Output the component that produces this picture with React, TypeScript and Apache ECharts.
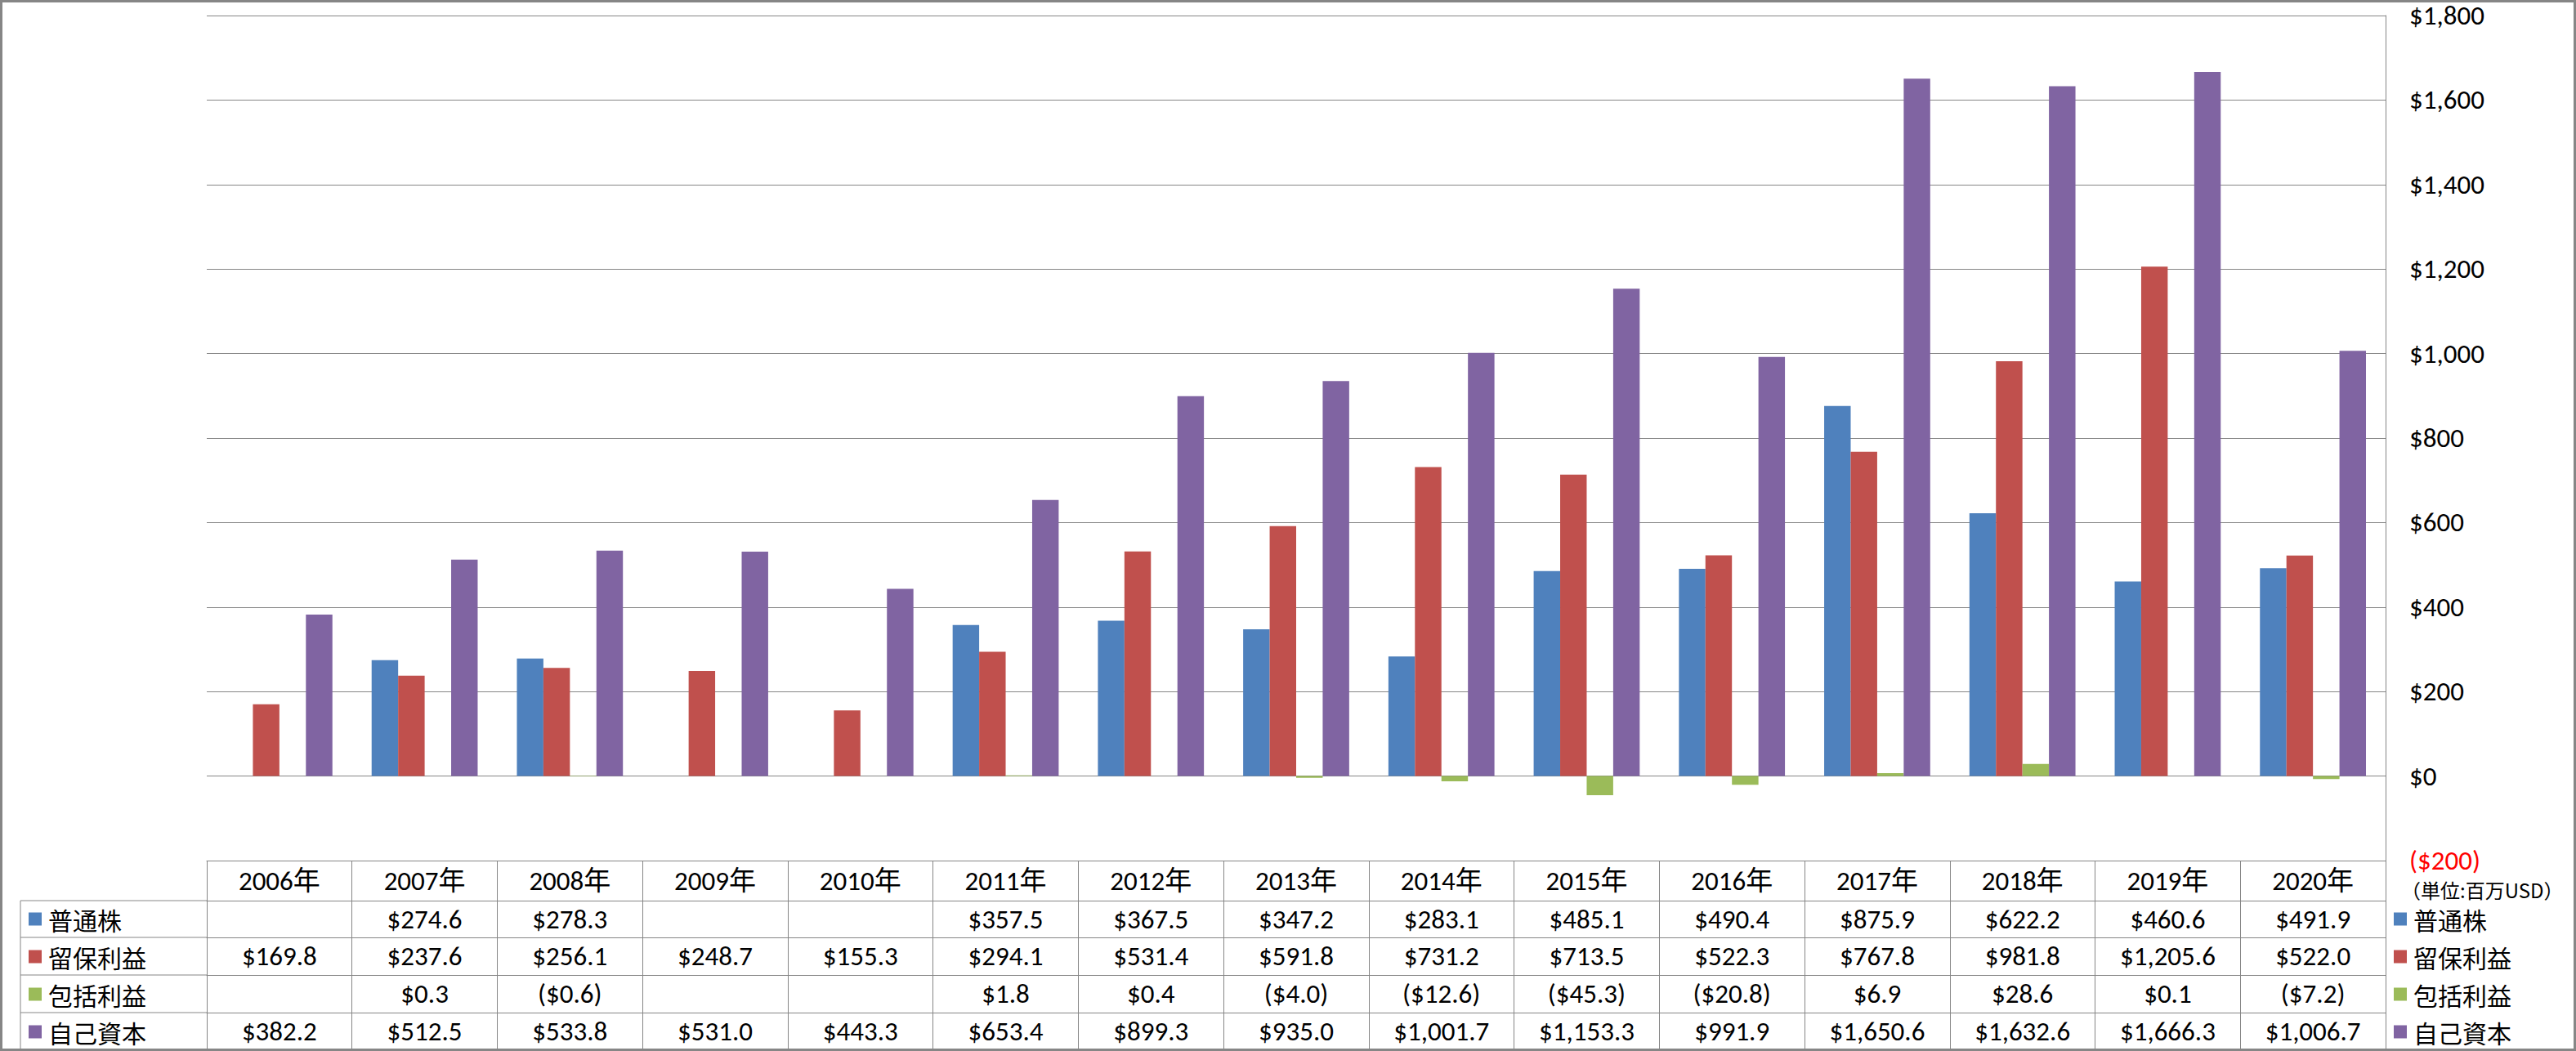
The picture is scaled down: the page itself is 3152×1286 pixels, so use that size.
import React, { useEffect, useRef } from "react";
import * as echarts from "echarts";

const years = ["2006年", "2007年", "2008年", "2009年", "2010年", "2011年", "2012年", "2013年", "2014年", "2015年", "2016年", "2017年", "2018年", "2019年", "2020年"];
const seriesNames = ["普通株", "留保利益", "包括利益", "自己資本"];
const commonStock = [null, 274.6, 278.3, null, null, 357.5, 367.5, 347.2, 283.1, 485.1, 490.4, 875.9, 622.2, 460.6, 491.9];
const retainedEarnings = [169.8, 237.6, 256.1, 248.7, 155.3, 294.1, 531.4, 591.8, 731.2, 713.5, 522.3, 767.8, 981.8, 1205.6, 522.0];
const comprehensiveIncome = [null, 0.3, -0.6, null, null, 1.8, 0.4, -4.0, -12.6, -45.3, -20.8, 6.9, 28.6, 0.1, -7.2];
const equity = [382.2, 512.5, 533.8, 531.0, 443.3, 653.4, 899.3, 935.0, 1001.7, 1153.3, 991.9, 1650.6, 1632.6, 1666.3, 1006.7];
const seriesData = [commonStock, retainedEarnings, comprehensiveIncome, equity];
const seriesColors = ["#4F81BD", "#C0504D", "#9BBB59", "#8064A2"];
const yMin = -200;
const yMax = 1800;
const yInterval = 200;
const unitLabel = "（単位:百万USD）";

const GRAY = "#868686";
const NUM_FONT = "Carlito, Lato, 'Noto Sans CJK JP', sans-serif";
const CJK_FONT = "'Noto Sans CJK JP', sans-serif";
const NUM_SIZE = 33;

const fmt = (v: number | null) => {
  if (v === null || v === undefined) return "";
  const s = "$" + Math.abs(v).toLocaleString("en-US", { minimumFractionDigits: 1, maximumFractionDigits: 1 });
  return v < 0 ? `(${s})` : s;
};

export default function App() {
  const ref = useRef<HTMLDivElement>(null);
  useEffect(() => {
    if (!ref.current) return;
    const chart = echarts.init(ref.current, null, { renderer: "svg" });

    const gridLeft = 253;
    const gridRight = 233;
    const gridTop = 19;
    const gridBottom = 233;
    const tableTop = 1286 - gridBottom; // 1053
    const headerH = 49;
    const rowOffsets = [49, 94, 140, 186];
    const rowHeights = [45, 46, 46, 46];

    const baseAxis = (extra: any) => ({
      type: "category",
      data: years,
      gridIndex: 0,
      position: "bottom",
      boundaryGap: true,
      axisLine: { show: true, onZero: false, lineStyle: { color: GRAY, width: 1 } },
      splitLine: { show: false },
      ...extra,
    });

    const xAxes: any[] = [
      baseAxis({
        offset: 0,
        axisTick: { show: true, interval: 0, length: headerH, lineStyle: { color: GRAY, width: 1 } },
        axisLabel: {
          interval: 0,
          margin: headerH / 2,
          verticalAlign: "middle",
          color: "#000",
          fontSize: NUM_SIZE,
          fontFamily: NUM_FONT,
        },
      }),
      ...rowOffsets.map((off, r) =>
        baseAxis({
          offset: off,
          axisTick: { show: true, interval: 0, length: rowHeights[r], lineStyle: { color: GRAY, width: 1 } },
          axisLabel: {
            interval: 0,
            margin: rowHeights[r] / 2,
            verticalAlign: "middle",
            color: "#000",
            fontSize: NUM_SIZE,
            fontFamily: NUM_FONT,
            formatter: (_v: string, idx: number) => fmt(seriesData[r][idx] as any),
          },
        })
      ),
    ];

    const legendBase = {
      orient: "vertical",
      icon: "rect",
      itemWidth: 16,
      itemHeight: 16,
      itemGap: 15,
      padding: 0,
      selectedMode: false,
      data: seriesNames,
      textStyle: { fontSize: 30, lineHeight: 31, color: "#000", fontFamily: CJK_FONT, padding: [0, 0, 0, 3] },
    };

    const tableRowLines = rowOffsets.map((off) => ({
      type: "line",
      shape: { x1: 25, y1: tableTop + off, x2: gridLeft, y2: tableTop + off },
      style: { stroke: GRAY, lineWidth: 1 },
    }));

    chart.setOption({
      animation: false,
      backgroundColor: "#fff",
      grid: { left: gridLeft, right: gridRight, top: gridTop, bottom: gridBottom, containLabel: false },
      legend: [
        { ...legendBase, left: 35, top: 1109 },
        { ...legendBase, left: 2929, top: 1109 },
      ],
      xAxis: xAxes,
      yAxis: {
        type: "value",
        position: "right",
        min: yMin,
        max: yMax,
        interval: yInterval,
        axisLine: { show: true, lineStyle: { color: GRAY, width: 1 } },
        axisTick: { show: false },
        splitLine: { show: true, lineStyle: { color: GRAY, width: 1 } },
        axisLabel: {
          margin: 29,
          fontSize: NUM_SIZE,
          fontFamily: NUM_FONT,
          color: "#000",
          formatter: (v: number) =>
            v < 0 ? `{neg|($${Math.abs(v).toLocaleString("en-US")})}` : `$${v.toLocaleString("en-US")}`,
          rich: { neg: { color: "#FF0000", fontSize: NUM_SIZE, fontFamily: NUM_FONT } },
        },
      },
      series: seriesNames.map((name, i) => ({
        name,
        type: "bar",
        xAxisIndex: 0,
        yAxisIndex: 0,
        data: seriesData[i],
        barGap: "0%",
        barCategoryGap: "27%",
        itemStyle: { color: seriesColors[i] },
      })),
      graphic: [
        ...tableRowLines,
        {
          type: "line",
          shape: { x1: 25, y1: tableTop + rowOffsets[0], x2: 25, y2: 1286 },
          style: { stroke: GRAY, lineWidth: 1 },
        },
        {
          type: "text",
          x: 2938,
          y: 1088,
          style: {
            text: unitLabel,
            fontSize: 24,
            fontFamily: CJK_FONT,
            fill: "#000",
            verticalAlign: "middle",
            align: "left",
          },
        },
        {
          type: "rect",
          shape: { x: 1.5, y: 1.5, width: 3149, height: 1283 },
          style: { fill: "none", stroke: GRAY, lineWidth: 3 },
          z: 100,
        },
      ],
    });
    return () => chart.dispose();
  }, []);
  return <div ref={ref} style={{ position: "absolute", left: 0, top: 0, width: 3152, height: 1286 }} />;
}
